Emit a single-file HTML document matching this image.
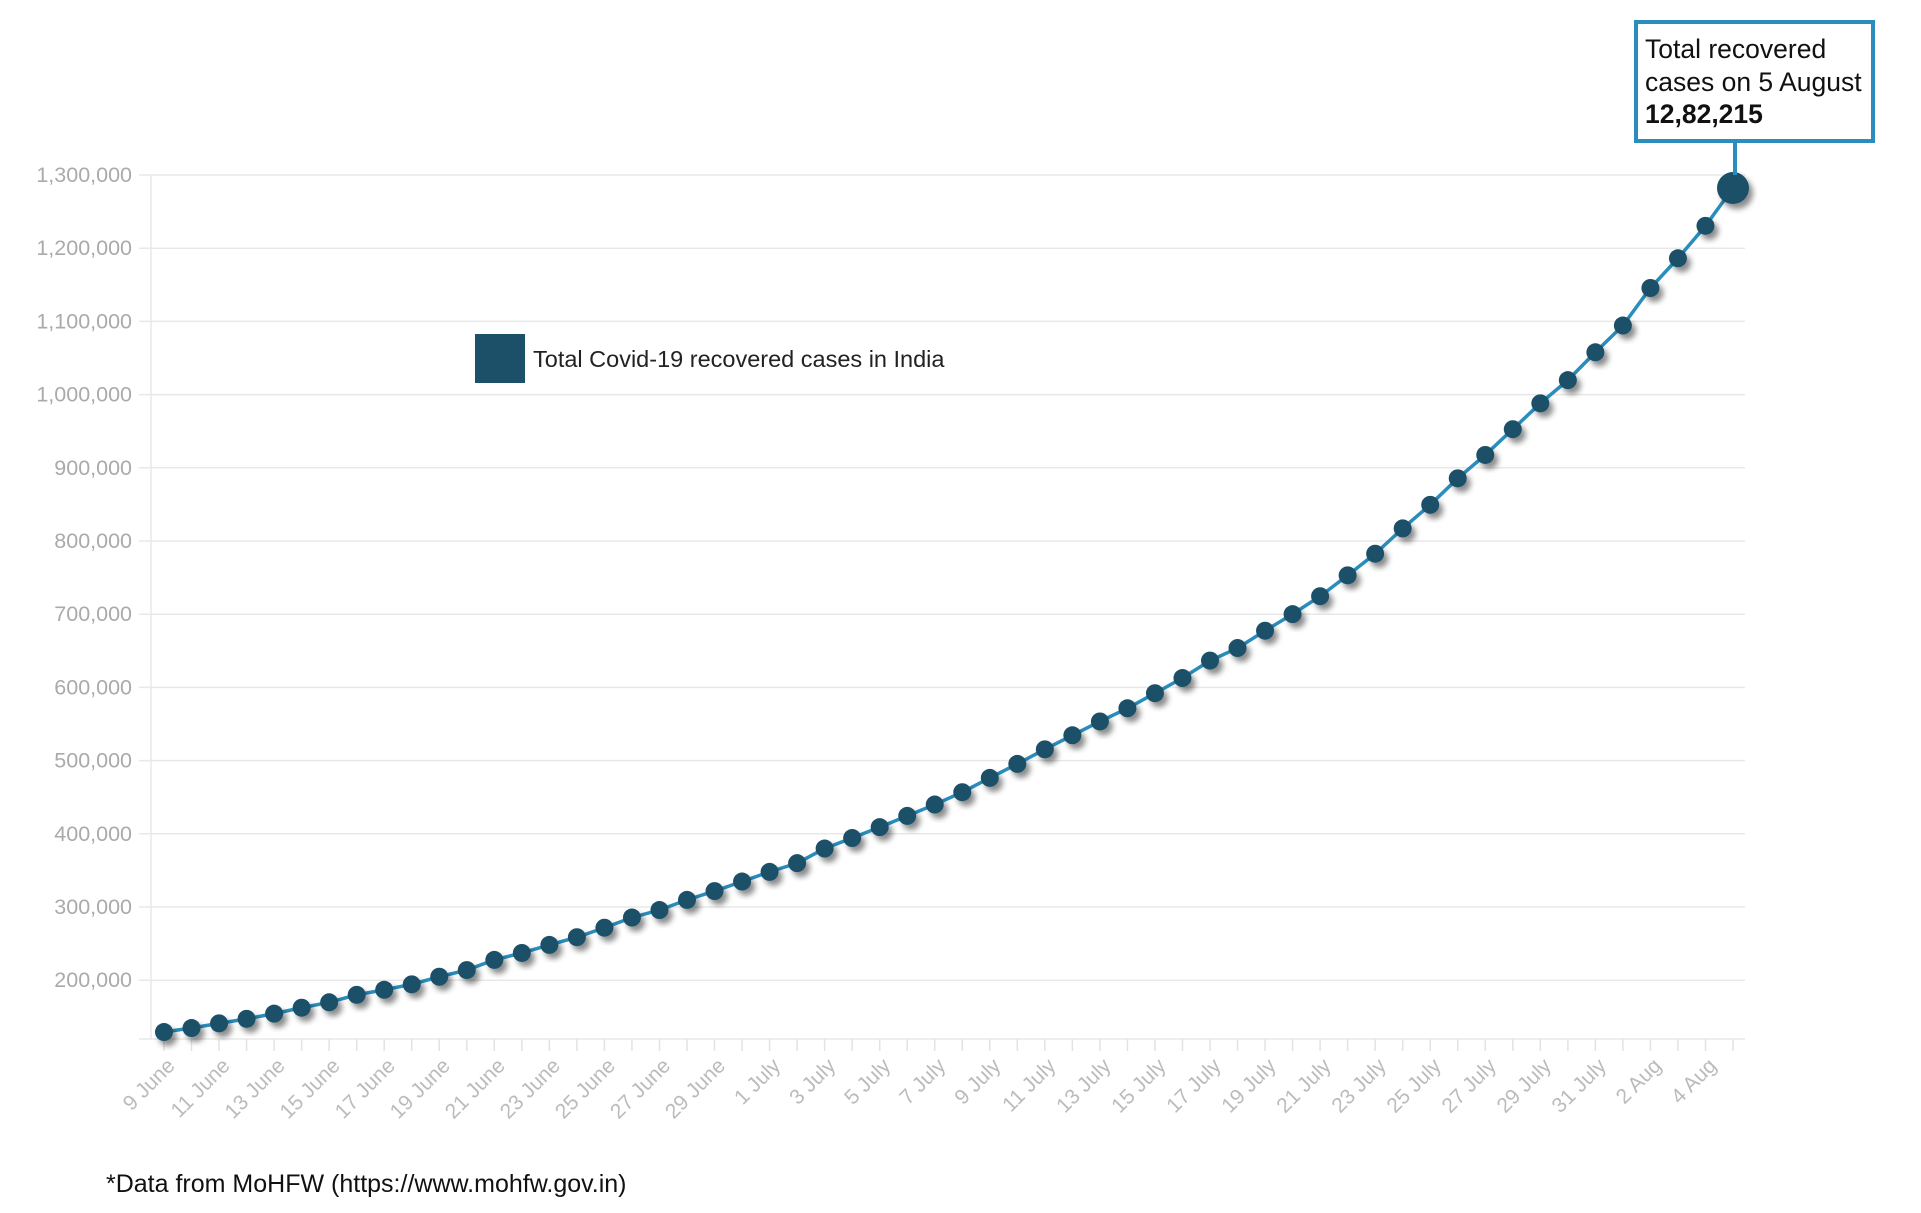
<!DOCTYPE html>
<html><head><meta charset="utf-8"><style>
html,body{margin:0;padding:0;background:#fff;}
svg{display:block;font-family:"Liberation Sans",sans-serif;}
</style></head><body>
<svg id="chart" width="1921" height="1213" viewBox="0 0 1921 1213" xmlns="http://www.w3.org/2000/svg">
<defs><filter id="sh" x="-50%" y="-50%" width="200%" height="200%"><feDropShadow dx="4" dy="5" stdDeviation="3" flood-color="#000" flood-opacity="0.45"/></filter></defs>
<g id="grid"></g>
<g id="yax"></g>
<g id="xax"></g>
<g id="series"></g>
<g>
<rect x="475" y="334" width="50" height="49" fill="#1b5068"/>
<text x="533" y="367" font-size="23.5" fill="#222">Total Covid-19 recovered cases in India</text>
</g>
<g>
<line x1="1735" y1="142" x2="1735" y2="175" stroke="#2a8dbd" stroke-width="4"/>
<rect x="1636" y="22" width="237" height="119" fill="#fff" stroke="#2a8dbd" stroke-width="4"/>
<text font-size="26.5" fill="#111">
<tspan x="1645" y="58">Total recovered</tspan>
<tspan x="1645" y="91">cases on 5 August</tspan>
<tspan x="1645" y="123" font-weight="bold">12,82,215</tspan></text>
</g>
<text x="106" y="1192" font-size="25" fill="#111">*Data from MoHFW (https://www.mohfw.gov.in)</text>
</svg>
<script>
const values=[129215,134670,141029,147195,154330,162379,169798,180013,186935,194325,204711,213831,227756,237196,248190,258685,271697,285637,295881,309713,321723,334822,347979,359860,379892,394227,409083,424433,439948,456831,476378,495513,515386,534621,553471,571460,592032,612815,636602,653751,677423,700087,724578,753050,782607,817209,849432,885577,917568,952744,988030,1019735,1057806,1094374,1145630,1186203,1230509,1282215];
const xLabels=["9 June","11 June","13 June","15 June","17 June","19 June","21 June","23 June","25 June","27 June","29 June","1 July","3 July","5 July","7 July","9 July","11 July","13 July","15 July","17 July","19 July","21 July","23 July","25 July","27 July","29 July","31 July","2 Aug","4 Aug"];
const yTicks=[200000,300000,400000,500000,600000,700000,800000,900000,1000000,1100000,1200000,1300000];
const NS="http://www.w3.org/2000/svg";
const X0=164,X1=1733,Y1300=175,PER=73.2,AXL=151,AXR=1745,AXB=1039;
function xs(i){return X0+(X1-X0)*i/(values.length-1);}
function ys(v){return Y1300+(1300000-v)/100000*PER;}
function mk(p,tag,a){const e=document.createElementNS(NS,tag);for(const k in a)e.setAttribute(k,a[k]);p.appendChild(e);return e;}
const grid=document.getElementById('grid'),yax=document.getElementById('yax'),xax=document.getElementById('xax'),ser=document.getElementById('series');
yTicks.forEach(v=>{
 const l=mk(grid,'line',{x1:AXL-12,x2:AXR,y1:ys(v),y2:ys(v),stroke:'#e8e8e8','stroke-width':1.5});
 
 
 const t=mk(yax,'text',{x:132,y:ys(v)+7,'text-anchor':'end','font-size':21.5,fill:'#aaa'});
 t.textContent=v.toLocaleString('en-US');
 
 
});
const ax=mk(grid,'line',{x1:AXL,x2:AXL,y1:Y1300,y2:AXB,stroke:'#e8e8e8','stroke-width':1.5});


const bx=mk(grid,'line',{x1:AXL-12,x2:AXR,y1:AXB,y2:AXB,stroke:'#e8e8e8','stroke-width':1.5});


values.forEach((v,i)=>{
 const tk=mk(xax,'line',{x1:xs(i),x2:xs(i),y1:AXB,y2:AXB+12,stroke:'#e3e3e3','stroke-width':1.5});
 
 
});
xLabels.forEach((s,j)=>{
 const x=xs(j*2)+12,y=AXB+28;
 const t=mk(xax,'text',{x:x,y:y,'text-anchor':'end','font-size':21,fill:'#bbb',transform:`rotate(-45 ${x} ${y})`});
 t.textContent=s;
 
 
});
const line=mk(ser,'polyline',{points:values.map((v,i)=>xs(i)+','+ys(v)).join(' '),fill:'none',stroke:'#2a8dbd','stroke-width':3.5});


values.forEach((v,i)=>{
 const last=i===values.length-1;
 const c=mk(ser,'circle',{cx:xs(i),cy:ys(v),r:last?16:9,fill:'#1b5068',filter:'url(#sh)'});
 
 
});
</script>
</body></html>
